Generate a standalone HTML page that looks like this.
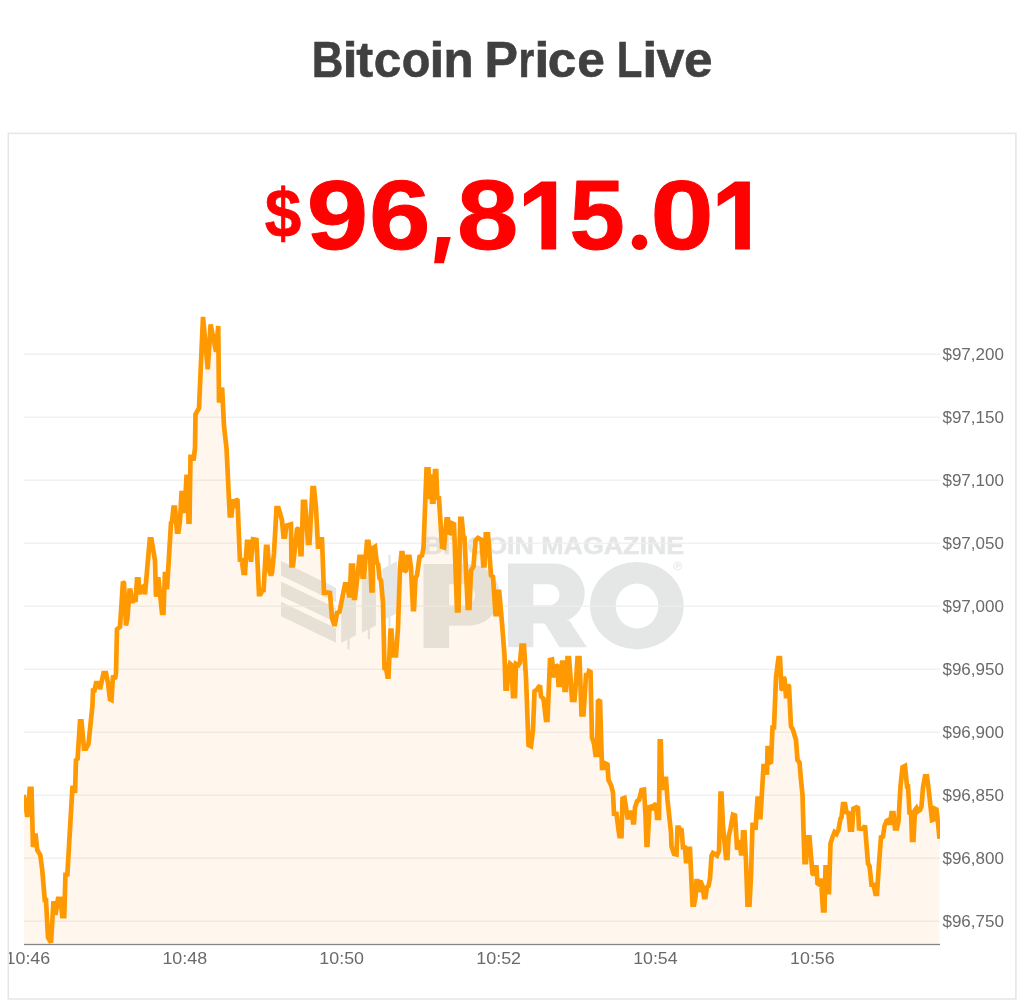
<!DOCTYPE html>
<html><head><meta charset="utf-8"><title>Bitcoin Price Live</title>
<style>
html,body{margin:0;padding:0;background:#fff;}
body{width:1024px;height:1008px;position:relative;overflow:hidden;font-family:"Liberation Sans",sans-serif;}
svg{position:absolute;left:0;top:0;will-change:transform;opacity:0.999;}
text{font-family:"Liberation Sans",sans-serif;font-kerning:none;}
</style></head><body>

<svg width="1024" height="1008" viewBox="0 0 1024 1008">
<defs><clipPath id="cp"><rect x="24" y="300" width="916" height="645"/></clipPath><clipPath id="cb"><rect x="9" y="134" width="1006" height="865"/></clipPath></defs>
<g fill="#404040" stroke="#404040" stroke-width="1.2">
<text transform="matrix(0.4370 0 0 0.5000 311.627 76.600)" font-size="100" font-weight="bold" >B</text>
<text transform="matrix(0.5466 0 0 0.5000 342.383 76.600)" font-size="100" font-weight="bold" >i</text>
<text transform="matrix(0.5071 0 0 0.5000 356.181 76.600)" font-size="100" font-weight="bold" >t</text>
<text transform="matrix(0.4951 0 0 0.5000 373.866 76.600)" font-size="100" font-weight="bold" >c</text>
<text transform="matrix(0.4693 0 0 0.5000 401.867 76.600)" font-size="100" font-weight="bold" >o</text>
<text transform="matrix(0.5320 0 0 0.5000 429.585 76.600)" font-size="100" font-weight="bold" >i</text>
<text transform="matrix(0.4928 0 0 0.5000 443.551 76.600)" font-size="100" font-weight="bold" >n</text>
<text transform="matrix(0.5018 0 0 0.5000 484.443 76.600)" font-size="100" font-weight="bold" >P</text>
<text transform="matrix(0.4057 0 0 0.5000 518.526 76.600)" font-size="100" font-weight="bold" >r</text>
<text transform="matrix(0.5503 0 0 0.5000 534.208 76.600)" font-size="100" font-weight="bold" >i</text>
<text transform="matrix(0.5125 0 0 0.5000 547.798 76.600)" font-size="100" font-weight="bold" >c</text>
<text transform="matrix(0.4970 0 0 0.5000 577.259 76.600)" font-size="100" font-weight="bold" >e</text>
<text transform="matrix(0.4199 0 0 0.5000 616.741 76.600)" font-size="100" font-weight="bold" >L</text>
<text transform="matrix(0.5466 0 0 0.5000 642.183 76.600)" font-size="100" font-weight="bold" >i</text>
<text transform="matrix(0.5020 0 0 0.5000 656.404 76.600)" font-size="100" font-weight="bold" >v</text>
<text transform="matrix(0.5136 0 0 0.5000 683.894 76.600)" font-size="100" font-weight="bold" >e</text>
</g>
<g fill="#ff0000" stroke="#ff0000" stroke-width="1" stroke-linejoin="round">
<text transform="matrix(0.6571 0 0 0.6945 264.684 237.445)" font-size="100" font-weight="bold" stroke-width="1">$</text>
<text transform="matrix(1.1045 0 0 0.9788 306.671 249.144)" font-size="100" font-weight="bold" >9</text>
<text transform="matrix(1.1067 0 0 0.9788 368.947 249.144)" font-size="100" font-weight="bold" >6</text>
<polygon stroke="none" points="437.2,237 450.75,237 443.9,263.25 434.1,263.25"/>
<text transform="matrix(1.1040 0 0 0.9788 456.996 249.144)" font-size="100" font-weight="bold" >8</text>
<path stroke="none" d="M541.25,181.4 L556.2,181.4 L556.2,249.4 L541.4,249.4 L541.4,195.4 L524,206.6 L524,193.7 Z"/>
<text transform="matrix(0.9949 0 0 0.9788 569.440 249.144)" font-size="100" font-weight="bold" >5</text>
<circle cx="639.5" cy="242.3" r="7.8" stroke="none"/>
<text transform="matrix(1.1354 0 0 0.9788 650.509 249.144)" font-size="100" font-weight="bold" >0</text>
<path stroke="none" transform="translate(193.7,0)" d="M541.25,181.4 L556.2,181.4 L556.2,249.4 L541.4,249.4 L541.4,195.4 L524,206.6 L524,193.7 Z"/>
</g>
<rect x="8.3" y="133.4" width="1007.6" height="865.6" fill="none" stroke="#e3e6e7" stroke-width="1.5"/>
<g id="wm" fill="#e5e7e7">
<polygon points="281,561.1 336,587.7 336,602.2 281,575.6"/>
<polygon points="281,581.4 336,608.0 336,622.5 281,595.9"/>
<polygon points="281,601.7 336,628.3 336,642.8 281,616.2"/>
<polygon points="341.2,599 356,591.2 356,635.3 341.2,643.1"/><rect x="347.4" y="577" width="2.2" height="72.4"/>
<polygon points="361.8,578.3 375.9,570.9 375.9,625.6 361.8,633"/><rect x="367.79999999999995" y="566" width="2.2" height="73.2"/>
<polygon points="382.2,568.9 397,561.1 397,613.2 382.2,621"/><rect x="388.4" y="554.8" width="2.2" height="72.7"/>
<text transform="matrix(0.2682 0 0 0.2355 423.606 553.600)" font-size="100" font-weight="bold" stroke="#e5e7e7" stroke-width="2.2">BITCOIN MAGAZINE</text>
<path fill-rule="evenodd" d="M423.5,563.9 H469 A30.9,30.9 0 0 1 469,625.7 H449.1 V648 H423.5 Z M449.1,584.3 H464.7 A10.5,10.5 0 0 1 464.7,605.3 H449.1 Z"/>
<path fill-rule="evenodd" d="M508,563.5 H554 A30.8,30.05 0 0 1 554,623.6 H533.3 V647.2 H508 Z M533.3,584.3 H549 A10.5,10.5 0 0 1 549,605.3 H533.3 Z"/>
<polygon points="544.5,623 569.2,620.5 587,647.2 559.5,647.2"/>
<path fill-rule="evenodd" d="M590,605.7 A46.85,43.7 0 1 0 683.7,605.7 A46.85,43.7 0 1 0 590,605.7 Z M615.7,606 A21.3,22.5 0 1 0 658.3,606 A21.3,22.5 0 1 0 615.7,606 Z"/>
<circle cx="677.7" cy="566" r="3.9" fill="none" stroke="#e5e7e7" stroke-width="0.9"/>
<rect x="676.3" y="563.8" width="1" height="4.4"/><circle cx="678.2" cy="565.2" r="1.3" fill="none" stroke="#e5e7e7" stroke-width="0.8"/>
</g>
<g id="grid">
<rect x="24" y="353.6" width="916" height="1.2" fill="#eeeeed"/>
<rect x="24" y="416.6" width="916" height="1.2" fill="#eeeeed"/>
<rect x="24" y="479.6" width="916" height="1.2" fill="#eeeeed"/>
<rect x="24" y="542.6" width="916" height="1.2" fill="#eeeeed"/>
<rect x="24" y="605.6" width="916" height="1.2" fill="#eeeeed"/>
<rect x="24" y="668.6" width="916" height="1.2" fill="#eeeeed"/>
<rect x="24" y="731.6" width="916" height="1.2" fill="#eeeeed"/>
<rect x="24" y="794.6" width="916" height="1.2" fill="#eeeeed"/>
<rect x="24" y="857.6" width="916" height="1.2" fill="#eeeeed"/>
<rect x="24" y="920.6" width="916" height="1.2" fill="#eeeeed"/>
</g>
<path d="M23.5,944 L23.5,795.0 L26.0,807.5 L27.25,817.0 L29.75,788.75 L31.5,788.75 L33.0,847.0 L35.5,833.5 L37.25,850.0 L40.25,855.0 L42.25,870.0 L44.75,900.0 L46.0,900.0 L48.0,937.5 L51.0,942.5 L53.5,901.25 L55.5,915.0 L58.0,898.75 L60.5,898.75 L62.25,916.25 L64.25,916.25 L65.5,872.5 L67.25,876.25 L72.5,786.0 L75.0,793.0 L76.0,758.75 L77.5,760.0 L80.0,721.25 L81.5,721.25 L84.0,748.75 L86.0,748.75 L88.5,743.75 L92.5,705.0 L93.0,690.5 L94.5,690.5 L96.0,683.0 L99.0,683.0 L100.0,689.25 L103.5,673.0 L106.0,673.0 L108.0,683.0 L110.0,699.25 L111.5,700.0 L113.0,675.5 L115.0,679.25 L116.0,673.0 L117.0,629.25 L120.0,626.75 L123.0,581.75 L124.0,583.0 L126.0,625.5 L127.5,618.0 L129.5,590.5 L130.5,590.5 L132.5,603.0 L133.5,598.0 L135.5,601.75 L137.0,579.25 L138.5,579.25 L139.5,594.25 L141.0,588.0 L143.0,586.75 L145.0,594.25 L149.75,539.25 L151.5,539.25 L155.0,560.5 L156.0,596.75 L157.5,579.25 L158.5,579.25 L162.0,613.0 L163.5,613.0 L165.0,571.75 L167.0,589.25 L171.0,523.0 L172.0,521.75 L173.5,507.5 L175.0,507.5 L177.0,531.75 L178.5,531.75 L180.0,520.5 L181.5,493.0 L183.0,493.0 L184.5,513.0 L186.5,476.75 L187.5,476.75 L188.5,521.75 L189.5,521.75 L190.5,456.75 L192.0,456.75 L193.5,460.5 L195.0,448.0 L195.5,414.38 L199.0,408.12 L203.0,316.88 L207.75,369.38 L210.62,324.38 L216.0,351.88 L218.25,326.0 L219.0,402.5 L222.12,387.5 L224.0,426.0 L226.5,448.0 L229.75,515.5 L231.5,515.5 L233.0,499.25 L234.5,508.0 L236.0,499.25 L237.5,500.5 L240.0,561.75 L241.5,558.0 L243.5,573.0 L245.0,573.0 L247.0,541.75 L248.5,541.75 L251.0,561.75 L253.0,539.25 L256.5,540.0 L259.0,594.25 L260.5,594.25 L262.5,590.5 L263.5,591.75 L266.0,546.75 L267.5,546.75 L269.5,571.75 L271.0,575.5 L272.0,573.0 L274.0,553.0 L276.5,508.0 L278.5,508.0 L281.0,516.75 L282.0,520.5 L283.5,536.75 L285.0,536.75 L286.5,525.5 L291.0,524.25 L291.5,565.5 L293.0,565.5 L297.0,529.25 L298.5,528.0 L300.5,554.25 L301.5,554.25 L303.0,501.75 L305.0,501.75 L308.0,543.0 L309.5,543.0 L312.5,488.0 L314.0,488.0 L316.0,508.0 L318.0,546.75 L319.5,546.75 L320.5,539.25 L322.0,539.25 L324.0,593.0 L325.5,593.0 L327.5,592.5 L330.0,593.0 L332.0,618.0 L334.0,624.25 L335.0,624.25 L337.0,613.0 L339.5,611.75 L345.0,584.25 L347.0,584.25 L349.0,595.5 L350.0,595.5 L351.0,565.5 L353.0,565.5 L354.0,598.0 L355.0,598.0 L357.0,580.5 L359.5,556.75 L361.5,556.75 L362.5,576.75 L364.0,576.75 L367.0,541.75 L368.5,541.75 L370.0,553.0 L371.5,590.5 L372.5,590.5 L373.0,548.0 L375.0,546.75 L377.0,564.25 L378.0,563.0 L379.5,578.0 L381.0,580.5 L383.0,603.0 L384.5,668.0 L386.0,668.0 L387.5,676.75 L388.5,676.75 L390.5,630.5 L391.5,630.5 L393.0,655.5 L396.0,655.5 L398.0,628.0 L400.0,568.0 L401.5,553.0 L402.5,553.0 L404.5,571.75 L406.0,570.5 L407.5,556.75 L409.5,556.75 L411.0,568.0 L413.0,609.25 L414.0,609.25 L415.5,578.0 L417.0,575.5 L419.5,556.75 L422.0,555.5 L423.5,548.0 L426.5,469.25 L428.5,469.25 L429.5,499.25 L430.5,474.25 L432.0,501.75 L433.5,501.75 L435.0,471.0 L436.25,471.0 L437.25,497.5 L439.0,498.0 L442.0,546.75 L444.0,547.5 L446.5,519.25 L448.0,519.25 L449.5,534.25 L451.0,533.0 L452.5,523.5 L454.0,524.25 L457.0,610.5 L458.5,610.5 L460.25,518.75 L461.75,518.75 L463.5,538.0 L464.5,538.0 L467.75,608.0 L469.5,608.0 L471.0,570.5 L473.5,566.5 L475.5,540.5 L478.0,538.0 L481.5,540.0 L483.25,565.5 L484.5,565.5 L485.75,534.25 L488.0,534.25 L491.0,575.5 L493.0,576.75 L495.5,614.25 L497.0,614.25 L497.75,591.75 L499.25,591.75 L502.0,623.0 L504.5,655.5 L505.5,688.75 L507.0,688.75 L508.5,670.0 L510.0,663.75 L511.5,665.0 L513.0,696.25 L515.0,696.25 L516.0,663.75 L518.5,665.0 L520.0,662.5 L521.5,645.5 L524.0,645.5 L526.0,677.5 L528.5,745.0 L531.0,746.25 L533.0,730.0 L534.5,691.25 L536.5,690.0 L540.0,685.5 L541.0,696.25 L543.5,698.75 L546.0,720.0 L547.5,720.0 L550.0,660.0 L552.0,659.5 L554.0,677.5 L556.0,665.0 L557.5,666.25 L558.5,685.0 L560.0,685.0 L562.0,662.5 L563.5,662.5 L564.5,690.0 L566.0,690.0 L567.5,658.0 L569.0,658.0 L570.5,677.5 L572.0,700.0 L574.5,700.0 L576.0,681.25 L577.5,658.0 L579.5,658.0 L581.5,714.5 L583.5,714.5 L586.0,675.0 L588.0,675.0 L589.0,671.25 L590.5,672.0 L592.0,737.5 L594.0,743.75 L595.5,755.0 L597.0,755.0 L598.0,701.25 L600.0,700.0 L602.0,768.0 L605.0,768.0 L606.0,763.75 L607.5,764.5 L608.5,780.0 L611.0,785.0 L613.0,792.5 L614.0,813.75 L616.5,813.75 L618.5,830.0 L619.5,836.25 L621.5,836.25 L622.5,798.75 L624.5,798.0 L627.5,817.5 L629.0,817.5 L630.5,812.5 L632.0,812.5 L633.0,822.5 L634.0,822.5 L635.0,807.5 L637.0,801.25 L639.0,800.0 L641.5,790.0 L644.0,789.5 L645.5,815.0 L646.5,845.0 L647.5,845.0 L649.5,807.0 L652.0,806.25 L653.5,810.0 L654.5,805.0 L656.0,803.75 L657.0,818.0 L659.0,818.0 L659.75,741.25 L660.75,741.25 L662.0,790.0 L663.5,778.75 L666.0,778.75 L667.5,800.0 L671.0,832.5 L671.5,846.25 L674.0,853.75 L676.5,854.5 L677.5,827.5 L679.0,827.5 L680.0,830.0 L681.5,828.75 L683.0,847.5 L685.0,847.5 L686.0,861.25 L687.5,861.25 L688.0,848.75 L690.0,848.75 L692.5,904.75 L694.0,904.75 L695.5,897.25 L696.5,881.0 L697.5,881.0 L698.5,892.25 L699.5,882.25 L701.0,882.25 L702.5,886.0 L704.0,897.25 L705.5,897.25 L707.0,887.25 L708.5,886.0 L710.0,878.5 L711.5,856.0 L713.0,853.0 L715.0,854.0 L717.0,855.5 L719.0,851.0 L720.5,793.5 L721.5,793.5 L723.0,826.0 L726.0,858.0 L727.5,858.0 L728.5,837.25 L730.5,828.5 L733.0,814.75 L735.0,815.5 L736.5,838.5 L737.0,849.75 L738.5,841.0 L739.5,842.25 L741.0,853.5 L742.0,853.5 L743.0,832.25 L744.5,832.25 L746.0,861.0 L747.5,904.75 L749.5,904.75 L751.0,876.0 L752.5,824.75 L754.5,824.75 L755.5,829.75 L757.5,798.5 L758.5,798.5 L759.5,817.25 L760.5,817.25 L763.5,766.0 L766.0,766.0 L767.0,774.75 L767.5,748.0 L769.0,748.0 L770.0,762.5 L771.0,762.0 L772.5,727.5 L774.0,727.5 L776.0,677.5 L778.5,658.0 L780.0,658.0 L781.5,688.75 L782.5,689.5 L783.5,677.5 L784.5,678.75 L786.0,696.25 L787.0,696.25 L788.0,685.5 L789.0,686.25 L791.0,726.25 L793.0,730.0 L796.0,740.0 L797.5,760.0 L799.5,762.5 L801.0,780.0 L802.5,795.0 L803.5,830.0 L804.5,862.25 L806.0,862.25 L807.5,837.25 L809.5,837.25 L811.0,856.0 L812.5,873.5 L814.0,874.75 L815.0,867.25 L816.5,867.25 L817.5,883.5 L819.5,884.75 L820.5,878.5 L821.5,886.0 L823.0,910.5 L824.5,910.5 L825.5,867.25 L826.5,867.25 L827.5,892.25 L829.0,892.25 L830.5,843.5 L832.5,837.25 L834.5,832.25 L836.5,834.0 L838.5,829.75 L840.5,818.5 L841.5,817.25 L843.0,804.0 L845.0,804.0 L846.5,812.25 L848.5,813.0 L850.0,829.75 L852.0,829.75 L853.5,807.25 L855.0,808.5 L856.5,807.25 L858.0,808.0 L859.0,828.5 L863.5,829.0 L865.0,825.5 L868.0,863.5 L869.5,866.0 L871.5,884.75 L873.5,884.75 L875.5,894.0 L877.0,894.0 L879.0,863.5 L881.0,837.25 L883.0,836.5 L884.5,826.0 L886.5,821.0 L888.5,819.75 L890.0,824.75 L891.5,813.0 L893.5,813.0 L895.0,828.5 L897.0,828.5 L898.5,821.0 L900.5,786.0 L902.5,767.25 L905.0,766.0 L907.0,786.25 L908.0,786.25 L909.5,812.5 L911.0,812.5 L912.0,840.0 L913.5,840.0 L915.0,810.0 L916.5,808.0 L918.0,811.25 L920.0,810.0 L921.5,806.25 L923.0,787.5 L925.0,776.25 L927.0,776.25 L929.0,792.5 L932.0,820.0 L933.5,819.5 L935.0,808.75 L936.5,809.5 L938.0,822.5 L939.5,838.75 L939.5,944 Z" fill="#ff9900" fill-opacity="0.075" clip-path="url(#cp)"/>
<path d="M23.5,795.0 L26.0,807.5 L27.25,817.0 L29.75,788.75 L31.5,788.75 L33.0,847.0 L35.5,833.5 L37.25,850.0 L40.25,855.0 L42.25,870.0 L44.75,900.0 L46.0,900.0 L48.0,937.5 L51.0,942.5 L53.5,901.25 L55.5,915.0 L58.0,898.75 L60.5,898.75 L62.25,916.25 L64.25,916.25 L65.5,872.5 L67.25,876.25 L72.5,786.0 L75.0,793.0 L76.0,758.75 L77.5,760.0 L80.0,721.25 L81.5,721.25 L84.0,748.75 L86.0,748.75 L88.5,743.75 L92.5,705.0 L93.0,690.5 L94.5,690.5 L96.0,683.0 L99.0,683.0 L100.0,689.25 L103.5,673.0 L106.0,673.0 L108.0,683.0 L110.0,699.25 L111.5,700.0 L113.0,675.5 L115.0,679.25 L116.0,673.0 L117.0,629.25 L120.0,626.75 L123.0,581.75 L124.0,583.0 L126.0,625.5 L127.5,618.0 L129.5,590.5 L130.5,590.5 L132.5,603.0 L133.5,598.0 L135.5,601.75 L137.0,579.25 L138.5,579.25 L139.5,594.25 L141.0,588.0 L143.0,586.75 L145.0,594.25 L149.75,539.25 L151.5,539.25 L155.0,560.5 L156.0,596.75 L157.5,579.25 L158.5,579.25 L162.0,613.0 L163.5,613.0 L165.0,571.75 L167.0,589.25 L171.0,523.0 L172.0,521.75 L173.5,507.5 L175.0,507.5 L177.0,531.75 L178.5,531.75 L180.0,520.5 L181.5,493.0 L183.0,493.0 L184.5,513.0 L186.5,476.75 L187.5,476.75 L188.5,521.75 L189.5,521.75 L190.5,456.75 L192.0,456.75 L193.5,460.5 L195.0,448.0 L195.5,414.38 L199.0,408.12 L203.0,316.88 L207.75,369.38 L210.62,324.38 L216.0,351.88 L218.25,326.0 L219.0,402.5 L222.12,387.5 L224.0,426.0 L226.5,448.0 L229.75,515.5 L231.5,515.5 L233.0,499.25 L234.5,508.0 L236.0,499.25 L237.5,500.5 L240.0,561.75 L241.5,558.0 L243.5,573.0 L245.0,573.0 L247.0,541.75 L248.5,541.75 L251.0,561.75 L253.0,539.25 L256.5,540.0 L259.0,594.25 L260.5,594.25 L262.5,590.5 L263.5,591.75 L266.0,546.75 L267.5,546.75 L269.5,571.75 L271.0,575.5 L272.0,573.0 L274.0,553.0 L276.5,508.0 L278.5,508.0 L281.0,516.75 L282.0,520.5 L283.5,536.75 L285.0,536.75 L286.5,525.5 L291.0,524.25 L291.5,565.5 L293.0,565.5 L297.0,529.25 L298.5,528.0 L300.5,554.25 L301.5,554.25 L303.0,501.75 L305.0,501.75 L308.0,543.0 L309.5,543.0 L312.5,488.0 L314.0,488.0 L316.0,508.0 L318.0,546.75 L319.5,546.75 L320.5,539.25 L322.0,539.25 L324.0,593.0 L325.5,593.0 L327.5,592.5 L330.0,593.0 L332.0,618.0 L334.0,624.25 L335.0,624.25 L337.0,613.0 L339.5,611.75 L345.0,584.25 L347.0,584.25 L349.0,595.5 L350.0,595.5 L351.0,565.5 L353.0,565.5 L354.0,598.0 L355.0,598.0 L357.0,580.5 L359.5,556.75 L361.5,556.75 L362.5,576.75 L364.0,576.75 L367.0,541.75 L368.5,541.75 L370.0,553.0 L371.5,590.5 L372.5,590.5 L373.0,548.0 L375.0,546.75 L377.0,564.25 L378.0,563.0 L379.5,578.0 L381.0,580.5 L383.0,603.0 L384.5,668.0 L386.0,668.0 L387.5,676.75 L388.5,676.75 L390.5,630.5 L391.5,630.5 L393.0,655.5 L396.0,655.5 L398.0,628.0 L400.0,568.0 L401.5,553.0 L402.5,553.0 L404.5,571.75 L406.0,570.5 L407.5,556.75 L409.5,556.75 L411.0,568.0 L413.0,609.25 L414.0,609.25 L415.5,578.0 L417.0,575.5 L419.5,556.75 L422.0,555.5 L423.5,548.0 L426.5,469.25 L428.5,469.25 L429.5,499.25 L430.5,474.25 L432.0,501.75 L433.5,501.75 L435.0,471.0 L436.25,471.0 L437.25,497.5 L439.0,498.0 L442.0,546.75 L444.0,547.5 L446.5,519.25 L448.0,519.25 L449.5,534.25 L451.0,533.0 L452.5,523.5 L454.0,524.25 L457.0,610.5 L458.5,610.5 L460.25,518.75 L461.75,518.75 L463.5,538.0 L464.5,538.0 L467.75,608.0 L469.5,608.0 L471.0,570.5 L473.5,566.5 L475.5,540.5 L478.0,538.0 L481.5,540.0 L483.25,565.5 L484.5,565.5 L485.75,534.25 L488.0,534.25 L491.0,575.5 L493.0,576.75 L495.5,614.25 L497.0,614.25 L497.75,591.75 L499.25,591.75 L502.0,623.0 L504.5,655.5 L505.5,688.75 L507.0,688.75 L508.5,670.0 L510.0,663.75 L511.5,665.0 L513.0,696.25 L515.0,696.25 L516.0,663.75 L518.5,665.0 L520.0,662.5 L521.5,645.5 L524.0,645.5 L526.0,677.5 L528.5,745.0 L531.0,746.25 L533.0,730.0 L534.5,691.25 L536.5,690.0 L540.0,685.5 L541.0,696.25 L543.5,698.75 L546.0,720.0 L547.5,720.0 L550.0,660.0 L552.0,659.5 L554.0,677.5 L556.0,665.0 L557.5,666.25 L558.5,685.0 L560.0,685.0 L562.0,662.5 L563.5,662.5 L564.5,690.0 L566.0,690.0 L567.5,658.0 L569.0,658.0 L570.5,677.5 L572.0,700.0 L574.5,700.0 L576.0,681.25 L577.5,658.0 L579.5,658.0 L581.5,714.5 L583.5,714.5 L586.0,675.0 L588.0,675.0 L589.0,671.25 L590.5,672.0 L592.0,737.5 L594.0,743.75 L595.5,755.0 L597.0,755.0 L598.0,701.25 L600.0,700.0 L602.0,768.0 L605.0,768.0 L606.0,763.75 L607.5,764.5 L608.5,780.0 L611.0,785.0 L613.0,792.5 L614.0,813.75 L616.5,813.75 L618.5,830.0 L619.5,836.25 L621.5,836.25 L622.5,798.75 L624.5,798.0 L627.5,817.5 L629.0,817.5 L630.5,812.5 L632.0,812.5 L633.0,822.5 L634.0,822.5 L635.0,807.5 L637.0,801.25 L639.0,800.0 L641.5,790.0 L644.0,789.5 L645.5,815.0 L646.5,845.0 L647.5,845.0 L649.5,807.0 L652.0,806.25 L653.5,810.0 L654.5,805.0 L656.0,803.75 L657.0,818.0 L659.0,818.0 L659.75,741.25 L660.75,741.25 L662.0,790.0 L663.5,778.75 L666.0,778.75 L667.5,800.0 L671.0,832.5 L671.5,846.25 L674.0,853.75 L676.5,854.5 L677.5,827.5 L679.0,827.5 L680.0,830.0 L681.5,828.75 L683.0,847.5 L685.0,847.5 L686.0,861.25 L687.5,861.25 L688.0,848.75 L690.0,848.75 L692.5,904.75 L694.0,904.75 L695.5,897.25 L696.5,881.0 L697.5,881.0 L698.5,892.25 L699.5,882.25 L701.0,882.25 L702.5,886.0 L704.0,897.25 L705.5,897.25 L707.0,887.25 L708.5,886.0 L710.0,878.5 L711.5,856.0 L713.0,853.0 L715.0,854.0 L717.0,855.5 L719.0,851.0 L720.5,793.5 L721.5,793.5 L723.0,826.0 L726.0,858.0 L727.5,858.0 L728.5,837.25 L730.5,828.5 L733.0,814.75 L735.0,815.5 L736.5,838.5 L737.0,849.75 L738.5,841.0 L739.5,842.25 L741.0,853.5 L742.0,853.5 L743.0,832.25 L744.5,832.25 L746.0,861.0 L747.5,904.75 L749.5,904.75 L751.0,876.0 L752.5,824.75 L754.5,824.75 L755.5,829.75 L757.5,798.5 L758.5,798.5 L759.5,817.25 L760.5,817.25 L763.5,766.0 L766.0,766.0 L767.0,774.75 L767.5,748.0 L769.0,748.0 L770.0,762.5 L771.0,762.0 L772.5,727.5 L774.0,727.5 L776.0,677.5 L778.5,658.0 L780.0,658.0 L781.5,688.75 L782.5,689.5 L783.5,677.5 L784.5,678.75 L786.0,696.25 L787.0,696.25 L788.0,685.5 L789.0,686.25 L791.0,726.25 L793.0,730.0 L796.0,740.0 L797.5,760.0 L799.5,762.5 L801.0,780.0 L802.5,795.0 L803.5,830.0 L804.5,862.25 L806.0,862.25 L807.5,837.25 L809.5,837.25 L811.0,856.0 L812.5,873.5 L814.0,874.75 L815.0,867.25 L816.5,867.25 L817.5,883.5 L819.5,884.75 L820.5,878.5 L821.5,886.0 L823.0,910.5 L824.5,910.5 L825.5,867.25 L826.5,867.25 L827.5,892.25 L829.0,892.25 L830.5,843.5 L832.5,837.25 L834.5,832.25 L836.5,834.0 L838.5,829.75 L840.5,818.5 L841.5,817.25 L843.0,804.0 L845.0,804.0 L846.5,812.25 L848.5,813.0 L850.0,829.75 L852.0,829.75 L853.5,807.25 L855.0,808.5 L856.5,807.25 L858.0,808.0 L859.0,828.5 L863.5,829.0 L865.0,825.5 L868.0,863.5 L869.5,866.0 L871.5,884.75 L873.5,884.75 L875.5,894.0 L877.0,894.0 L879.0,863.5 L881.0,837.25 L883.0,836.5 L884.5,826.0 L886.5,821.0 L888.5,819.75 L890.0,824.75 L891.5,813.0 L893.5,813.0 L895.0,828.5 L897.0,828.5 L898.5,821.0 L900.5,786.0 L902.5,767.25 L905.0,766.0 L907.0,786.25 L908.0,786.25 L909.5,812.5 L911.0,812.5 L912.0,840.0 L913.5,840.0 L915.0,810.0 L916.5,808.0 L918.0,811.25 L920.0,810.0 L921.5,806.25 L923.0,787.5 L925.0,776.25 L927.0,776.25 L929.0,792.5 L932.0,820.0 L933.5,819.5 L935.0,808.75 L936.5,809.5 L938.0,822.5 L939.5,838.75" fill="none" stroke="#ff9900" stroke-width="4.7" stroke-linejoin="miter" stroke-miterlimit="2" clip-path="url(#cp)"/>
<rect x="24" y="943.85" width="916" height="1.3" fill="#858585"/>
<g fill="#6a6a6a" clip-path="url(#cb)">
<text transform="matrix(0.1703 0 0 0.1628 942.417 360.000)" font-size="100" font-weight="normal" >$97,200</text>
<text transform="matrix(0.1703 0 0 0.1628 942.417 423.000)" font-size="100" font-weight="normal" >$97,150</text>
<text transform="matrix(0.1703 0 0 0.1628 942.417 486.000)" font-size="100" font-weight="normal" >$97,100</text>
<text transform="matrix(0.1703 0 0 0.1628 942.417 549.000)" font-size="100" font-weight="normal" >$97,050</text>
<text transform="matrix(0.1703 0 0 0.1628 942.417 612.000)" font-size="100" font-weight="normal" >$97,000</text>
<text transform="matrix(0.1703 0 0 0.1628 942.417 675.000)" font-size="100" font-weight="normal" >$96,950</text>
<text transform="matrix(0.1703 0 0 0.1628 942.417 738.000)" font-size="100" font-weight="normal" >$96,900</text>
<text transform="matrix(0.1703 0 0 0.1628 942.417 801.000)" font-size="100" font-weight="normal" >$96,850</text>
<text transform="matrix(0.1703 0 0 0.1628 942.417 864.000)" font-size="100" font-weight="normal" >$96,800</text>
<text transform="matrix(0.1703 0 0 0.1628 942.417 927.000)" font-size="100" font-weight="normal" >$96,750</text>
<text transform="matrix(0.1788 0 0 0.1628 5.538 963.600)" font-size="100" font-weight="normal" >10:46</text>
<text transform="matrix(0.1788 0 0 0.1628 162.438 963.600)" font-size="100" font-weight="normal" >10:48</text>
<text transform="matrix(0.1785 0 0 0.1628 319.341 963.600)" font-size="100" font-weight="normal" >10:50</text>
<text transform="matrix(0.1793 0 0 0.1628 476.234 963.600)" font-size="100" font-weight="normal" >10:52</text>
<text transform="matrix(0.1777 0 0 0.1628 633.146 963.600)" font-size="100" font-weight="normal" >10:54</text>
<text transform="matrix(0.1788 0 0 0.1628 790.038 963.600)" font-size="100" font-weight="normal" >10:56</text>
</g>
</svg>
</body></html>
